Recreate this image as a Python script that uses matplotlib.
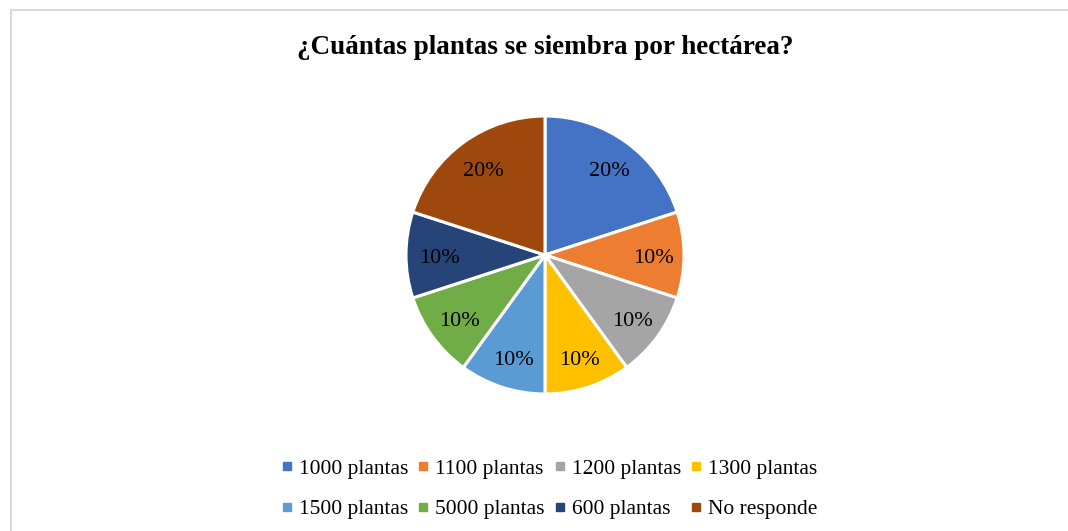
import matplotlib
matplotlib.use("Agg")
import matplotlib.pyplot as plt
from matplotlib.patches import Rectangle
from matplotlib.lines import Line2D

categories = ["1000 plantas", "1100 plantas", "1200 plantas", "1300 plantas",
              "1500 plantas", "5000 plantas", "600 plantas", "No responde"]
values = [20, 10, 10, 10, 10, 10, 10, 20]
colors = ["#4472C4", "#ED7D31", "#A5A5A5", "#FFC000",
          "#5B9BD5", "#70AD47", "#264478", "#9E480E"]
title = "¿Cuántas plantas se siembra por hectárea?"

plt.rcParams['font.family'] = ['Liberation Serif', 'DejaVu Serif']

W, H = 1068, 531
fig = plt.figure(figsize=(W/100, H/100), dpi=100)

# outer frame (right/bottom edges out of view)
fig.patches.append(Rectangle((11/W, -0.1), 1.2, 1 - 10/H + 0.1,
                             transform=fig.transFigure, fill=False,
                             edgecolor="#D9D9D9", linewidth=1.5))

cx, cy, r = 545, 255, 139
ax = fig.add_axes([(cx - r)/W, 1 - (cy + r)/H, 2*r/W, 2*r/H])
wedges, texts, autotexts = ax.pie(
    values, colors=colors, startangle=90, counterclock=False,
    autopct=lambda p: f"{p:.0f}%", pctdistance=0.77,
    wedgeprops=dict(edgecolor="white", linewidth=2.2),
    textprops=dict(fontsize=16, color="black"))
for t in autotexts:
    x, y = t.get_position()
    t.set_position((x + 0.01, y - 0.025))
ax.set_aspect("equal")
ax.set_xlim(-1.0, 1.0)
ax.set_ylim(-1.0, 1.0)

fig.text(cx/W, 1 - 47/H, title, ha="center", va="center",
         fontsize=19.5, fontweight="bold")

handles = [Line2D([], [], marker="s", linestyle="none", markersize=5.5,
                  markerfacecolor=c, markeredgecolor=c) for c in colors]
# reorder so that entries fill row-wise with 4 columns
order = [0, 4, 1, 5, 2, 6, 3, 7]
leg = fig.legend([handles[i] for i in order], [categories[i] for i in order],
                 ncol=4, loc="center", bbox_to_anchor=(549/W, 1 - 489/H),
                 frameon=False, fontsize=15.5, handlelength=0.6,
                 handletextpad=0.25, columnspacing=0.4, labelspacing=0.95)

fig.savefig("out.png", dpi=100)
